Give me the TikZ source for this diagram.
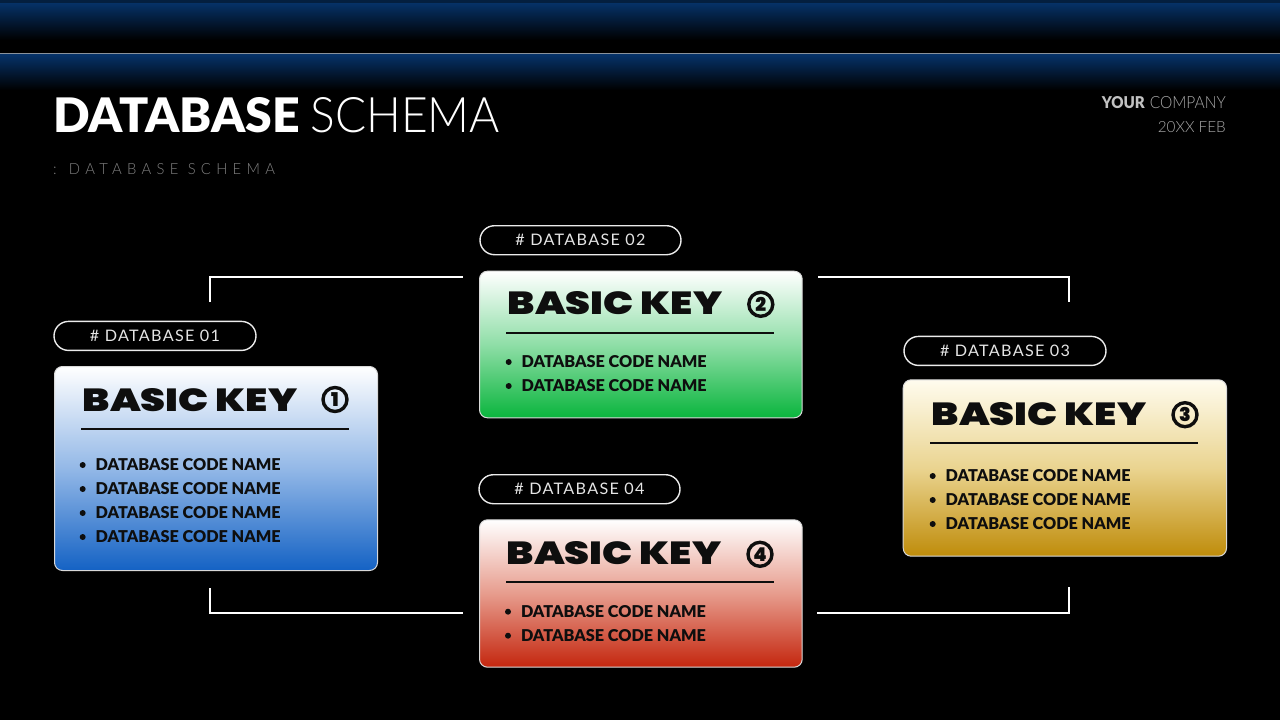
\documentclass[tikz,border=0pt]{standalone}
\usepackage{fontspec}
\usepackage{graphicx}
\setmainfont{Lato}
\IfFontExistsTF{Lato Black}{\newfontfamily\fHeavy{Lato Black}}{%
  \IfFontExistsTF{Lato Heavy}{\newfontfamily\fHeavy{Lato Heavy}}{%
    \IfFontExistsTF{Fira Sans ExtraBold}{\newfontfamily\fHeavy{Fira Sans ExtraBold}}{\newcommand\fHeavy{\bfseries}}}}
\IfFontExistsTF{Lato Light}{\newfontfamily\fLight{Lato Light}}{\newcommand\fLight{\mdseries}}
\IfFontExistsTF{Lato Light}{\newfontfamily\fSpaced{Lato Light}[LetterSpace=36]}{\newfontfamily\fSpaced{Lato}[LetterSpace=36]}
\newfontfamily\fPill{Lato}[LetterSpace=8]
\newfontfamily\fPopp{Poppins}
\IfFontExistsTF{Poppins Black}{\newfontfamily\fKey{Poppins Black}}{\newcommand\fKey{\fPopp\bfseries}}
\definecolor{hdrblue}{HTML}{06336A}
\definecolor{hdrline}{HTML}{8A939C}
\definecolor{bluebot}{HTML}{1462C4}
\definecolor{bluemid}{HTML}{93B8E7}
\definecolor{greenbot}{HTML}{0AB53D}
\definecolor{greenmid}{HTML}{8FDEA7}
\definecolor{goldtop}{HTML}{FFFCEE}
\definecolor{goldbot}{HTML}{BF8C0A}
\definecolor{goldmid}{HTML}{EAD490}
\definecolor{redbot}{HTML}{C4260E}
\definecolor{redmid}{HTML}{E79C8D}
\definecolor{ink}{HTML}{0E0E0E}
\tikzset{
  card/.style={rectangle, draw=white!85!black, line width=1pt, rounded corners=8pt, anchor=north west, inner sep=0pt},
  pill/.style={rectangle, draw=white!92!black, line width=1.4pt, rounded corners=14.5pt, anchor=north west, inner sep=0pt, minimum height=29pt, text=white!90!black},
  txt/.style={anchor=south west, inner sep=0pt, outer sep=0pt},
  numc/.style={circle, draw=ink, line width=3.4pt, minimum size=24pt, inner sep=0pt, text=ink, font=\fKey\fontsize{19}{19}\selectfont},
  rulel/.style={draw=ink, line width=2pt},
  conn/.style={draw=white, line width=2.5pt, line join=miter},
}
\newcommand\dbitem[3]{%
  \fill[ink] ({#1-13}, {#2-6}) circle (3pt);
  \node[txt, text=ink] (#3) at (#1,#2) {\resizebox{185pt}{12pt}{\fHeavy DATABASE CODE NAME}};
}
\newcommand\basickey[3]{%
  \node[txt, text=ink] (#3) at (#1,#2) {\resizebox{214.5pt}{23pt}{\fKey BASIC KEY}};
}
\begin{document}
\begin{tikzpicture}[x=1pt, y=-1pt]
\useasboundingbox (0,0) rectangle (1280,720);
\fill[black] (0,0) rectangle (1280,720);
% header bands
\shade[top color=hdrblue, bottom color=black] (0,2) rectangle (1280,40);
\fill[hdrblue!60!black] (0,0) rectangle (1280,2.5);
\shade[top color=hdrblue, bottom color=black] (0,54) rectangle (1280,90);
\draw[hdrline, line width=1.3pt] (0,53.3) -- (1280,53.3);
% title
\node[txt, text=white] (t1) at (53.3,133.3) {\resizebox{246.7pt}{35pt}{\fHeavy DATABASE}};
\node[txt, text=white] (t2) at (310.7,133.3) {\resizebox{189.3pt}{35pt}{\fLight SCHEMA}};
\node[txt, text=white!50!black] (sub) at (53,175) {\resizebox{222pt}{11pt}{\fSpaced : DATABASE SCHEMA}};
% company
\node[anchor=south east, inner sep=0pt] (comp) at (1226,109) {\textcolor{white!76!black}{\resizebox{43pt}{12pt}{\fHeavy YOUR}}\hspace{5pt}\textcolor{white!66!black}{\resizebox{76pt}{12pt}{\fLight COMPANY}}};
\node[anchor=south east, inner sep=0pt, text=white!66!black] (date) at (1226,132.5) {\resizebox{68pt}{11pt}{\fLight 20XX FEB}};
% connectors
\coordinate (a1) at (210,302); \coordinate (a2) at (463,277);
\coordinate (b1) at (818,277); \coordinate (b2) at (1069,302);
\coordinate (d1) at (210,588); \coordinate (d2) at (463,613);
\coordinate (e1) at (817,613); \coordinate (e2) at (1069,587);
\draw[conn] (a1) |- (a2);
\draw[conn] (b1) -| (b2);
\draw[conn] (d1) |- (d2);
\draw[conn] (e1) -| (e2);
% pills
\node[pill, minimum width=202pt] (p1) at (53.3,320.7) {\resizebox{130pt}{11.5pt}{\fPill \# DATABASE 01}};
\node[pill, minimum width=201pt] (p2) at (479.3,225) {\resizebox{130pt}{11.5pt}{\fPill \# DATABASE 02}};
\node[pill, minimum width=202pt] (p3) at (903.3,335.7) {\resizebox{130pt}{11.5pt}{\fPill \# DATABASE 03}};
\node[pill, minimum width=201pt] (p4) at (478.3,474) {\resizebox{130pt}{11.5pt}{\fPill \# DATABASE 04}};
% cards
\node[card, minimum width=323pt, minimum height=204pt, top color=white, bottom color=bluebot, middle color=bluemid] (c1) at (54,366) {};
\node[card, minimum width=322.7pt, minimum height=146.6pt, top color=white, bottom color=greenbot, middle color=greenmid] (c2) at (479,270.7) {};
\node[card, minimum width=323.3pt, minimum height=176.4pt, top color=goldtop, bottom color=goldbot, middle color=goldmid] (c3) at (902.7,379.3) {};
\node[card, minimum width=322.7pt, minimum height=147.4pt, top color=white, bottom color=redbot, middle color=redmid] (c4) at (479,519.3) {};
% card 1
\basickey{82.7}{411.7}{k1}
\node[numc] (n1) at (335,399.5) {1};
\draw[rulel] (81,428.5) -- (349,428.5);
\dbitem{95.7}{471}{i11}
\dbitem{95.7}{495}{i12}
\dbitem{95.7}{519}{i13}
\dbitem{95.7}{543}{i14}
% card 2
\basickey{507.7}{315}{k2}
\node[numc] (n2) at (760.8,304.3) {2};
\draw[rulel] (506,332.7) -- (774,332.7);
\dbitem{521.7}{368}{i21}
\dbitem{521.7}{392}{i22}
% card 3
\basickey{931.7}{426}{k3}
\node[numc] (n3) at (1185,414.7) {3};
\draw[rulel] (930,442.7) -- (1198,442.7);
\dbitem{945.7}{482}{i31}
\dbitem{945.7}{506}{i32}
\dbitem{945.7}{530}{i33}
% card 4
\basickey{506.7}{565}{k4}
\node[numc] (n4) at (760,554.3) {4};
\draw[rulel] (506,581.7) -- (774,581.7);
\dbitem{521}{617.7}{i41}
\dbitem{521}{641.7}{i42}
\end{tikzpicture}
\end{document}
